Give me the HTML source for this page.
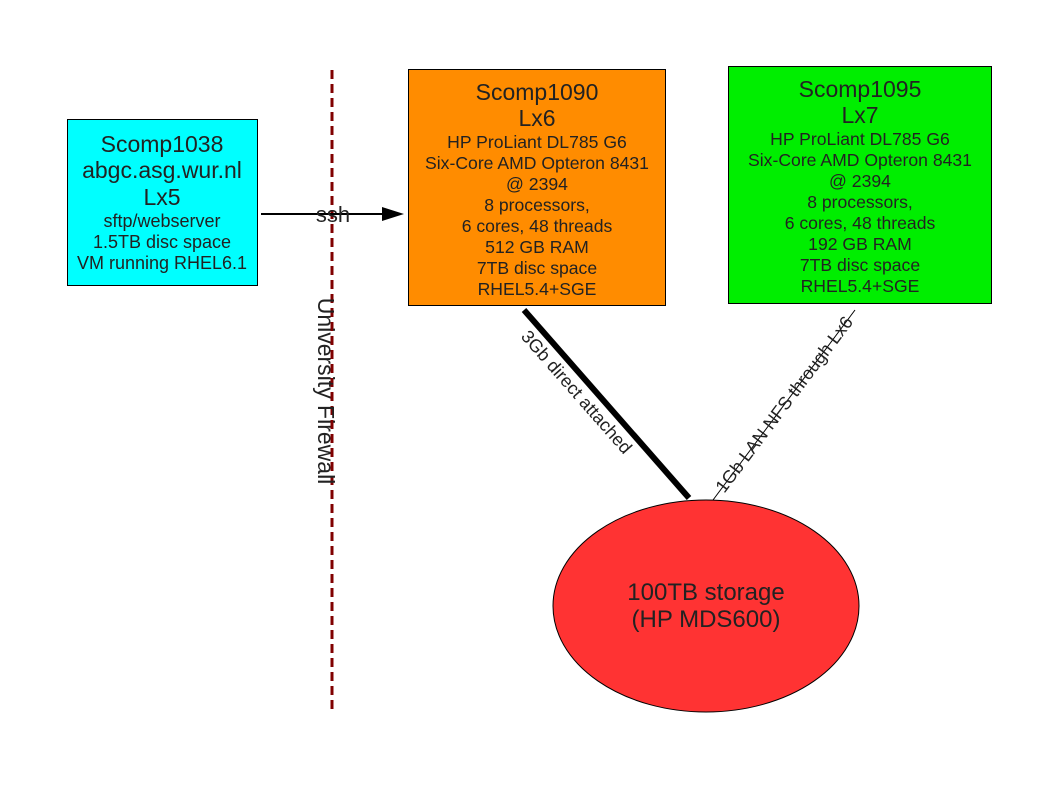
<!DOCTYPE html>
<html><head><meta charset="utf-8"><style>body{margin:0;background:#fff}svg{display:block}</style></head><body>
<svg width="1048" height="786" xmlns="http://www.w3.org/2000/svg" font-family="Liberation Sans, sans-serif" fill="#222">
<rect width="1048" height="786" fill="#fff"/>
<line x1="332" y1="70" x2="332" y2="712" stroke="#800000" stroke-width="3" stroke-dasharray="9,5"/>
<text transform="translate(318,391) rotate(90)" text-anchor="middle" font-size="23">University Firewall</text>
<line x1="261" y1="214" x2="390" y2="214" stroke="#000" stroke-width="2"/>
<polygon points="404,214 382,207 382,221" fill="#000"/>
<text x="333" y="222" text-anchor="middle" font-size="22">ssh</text>

<rect x="67.5" y="119.5" width="190" height="166" fill="#00ffff" stroke="#000"/>
<g text-anchor="middle">
<text x="162" y="152" font-size="23">Scomp1038</text>
<text x="162" y="178" font-size="23">abgc.asg.wur.nl</text>
<text x="162" y="205" font-size="23">Lx5</text>
<text x="162" y="227" font-size="18">sftp/webserver</text>
<text x="162" y="248" font-size="18">1.5TB disc space</text>
<text x="162" y="269" font-size="18">VM running RHEL6.1</text>
</g>

<rect x="408.5" y="69.5" width="257" height="236" fill="#ff8c00" stroke="#000"/>
<g text-anchor="middle">
<text x="537" y="100" font-size="23">Scomp1090</text>
<text x="537" y="126" font-size="23">Lx6</text>
<text x="537" y="148" font-size="17.6">HP ProLiant DL785 G6</text>
<text x="537" y="169" font-size="17.6">Six-Core AMD Opteron 8431</text>
<text x="537" y="190" font-size="17.6">@ 2394</text>
<text x="537" y="211" font-size="17.6">8 processors,</text>
<text x="537" y="232" font-size="17.6">6 cores, 48 threads</text>
<text x="537" y="253" font-size="17.6">512 GB RAM</text>
<text x="537" y="274" font-size="17.6">7TB disc space</text>
<text x="537" y="295" font-size="17.6">RHEL5.4+SGE</text>
</g>

<rect x="728.5" y="66.5" width="263" height="237" fill="#00ee00" stroke="#000"/>
<g text-anchor="middle">
<text x="860" y="97" font-size="23">Scomp1095</text>
<text x="860" y="123" font-size="23">Lx7</text>
<text x="860" y="145" font-size="17.6">HP ProLiant DL785 G6</text>
<text x="860" y="166" font-size="17.6">Six-Core AMD Opteron 8431</text>
<text x="860" y="187" font-size="17.6">@ 2394</text>
<text x="860" y="208" font-size="17.6">8 processors,</text>
<text x="860" y="229" font-size="17.6">6 cores, 48 threads</text>
<text x="860" y="250" font-size="17.6">192 GB RAM</text>
<text x="860" y="271" font-size="17.6">7TB disc space</text>
<text x="860" y="292" font-size="17.6">RHEL5.4+SGE</text>
</g>

<ellipse cx="706" cy="606" rx="153" ry="106" fill="#ff3333" stroke="#000"/>
<text x="706" y="600" text-anchor="middle" font-size="24">100TB storage</text>
<text x="706" y="627" text-anchor="middle" font-size="24">(HP MDS600)</text>

<line x1="524" y1="310" x2="689" y2="498" stroke="#000" stroke-width="6"/>
<text transform="translate(572,396) rotate(48.7)" text-anchor="middle" font-size="18">3Gb direct attached</text>
<line x1="855" y1="310" x2="713" y2="500" stroke="#000" stroke-width="1"/>
<text transform="translate(789,408) rotate(-53)" text-anchor="middle" font-size="18">1Gb LAN NFS through Lx6</text>
</svg>
</body></html>
